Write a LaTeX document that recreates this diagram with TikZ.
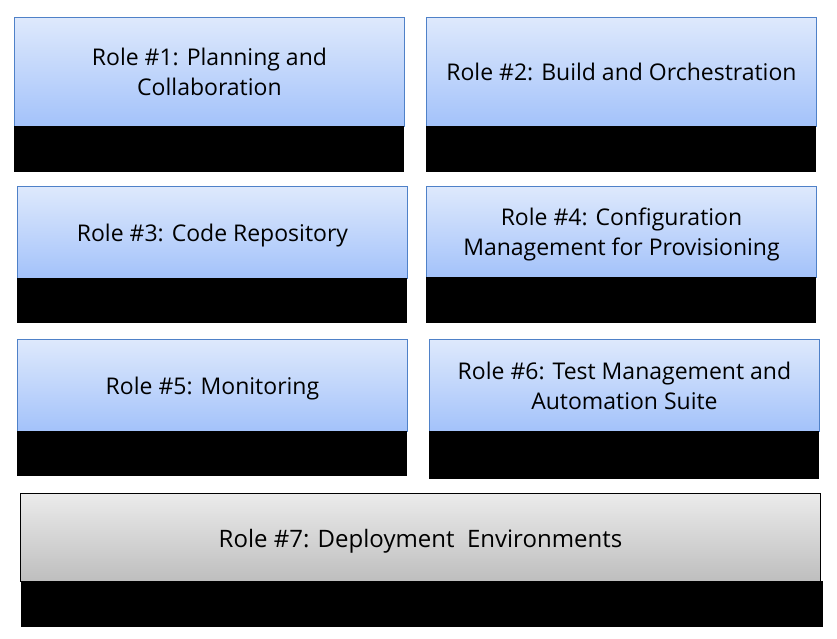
\documentclass[tikz,border=0pt]{standalone}
\usepackage{fontspec}
\setmainfont{Open Sans}
\definecolor{bluetop}{HTML}{DEE9FC}
\definecolor{bluebot}{HTML}{A3C2FA}
\definecolor{blueline}{HTML}{4F81C8}
\definecolor{graytop}{HTML}{EBEBEB}
\definecolor{graybot}{HTML}{BEBEBE}
\tikzset{
  rolebox/.style={anchor=north west, inner sep=0pt, draw=blueline, line width=0.9pt,
    top color=bluetop, bottom color=bluebot},
  graybox/.style={rolebox, draw=black, top color=graytop, bottom color=graybot},
  blackbar/.style={anchor=north west, inner sep=0pt, fill=black, draw=none},
  roletext/.style={inner sep=0pt, align=center, text=black,
    font=\fontsize{23}{30}\selectfont},
}
\begin{document}
\begin{tikzpicture}[x=1pt,y=-1pt]
\useasboundingbox (0,0) rectangle (837,639);
% Role boxes
\node[rolebox, minimum width=390pt, minimum height=109pt] (r1) at (14,17) {};
\node[blackbar, minimum width=390pt, minimum height=46pt] (k1) at (14,126) {};
\node[roletext] (t1) at (r1.center) {Role \#1: Planning and\\Collaboration};
\node[rolebox, minimum width=390pt, minimum height=109pt] (r2) at (426,17) {};
\node[blackbar, minimum width=390pt, minimum height=46pt] (k2) at (426,126) {};
\node[roletext] (t2) at (r2.center) {Role \#2: Build and Orchestration};
\node[rolebox, minimum width=390pt, minimum height=92pt] (r3) at (17,186) {};
\node[blackbar, minimum width=390pt, minimum height=45pt] (k3) at (17,278) {};
\node[roletext, yshift=-3pt] (t3) at (r3.center) {Role \#3: Code Repository};
\node[rolebox, minimum width=390pt, minimum height=91pt] (r4) at (426,186) {};
\node[blackbar, minimum width=390pt, minimum height=46pt] (k4) at (426,277) {};
\node[roletext, yshift=-3pt] (t4) at (r4.center) {Role \#4: Configuration\\Management for Provisioning};
\node[rolebox, minimum width=390pt, minimum height=92pt] (r5) at (17,339) {};
\node[blackbar, minimum width=390pt, minimum height=45pt] (k5) at (17,431) {};
\node[roletext, yshift=-3pt] (t5) at (r5.center) {Role \#5: Monitoring};
\node[rolebox, minimum width=390pt, minimum height=92pt] (r6) at (429,339) {};
\node[blackbar, minimum width=390pt, minimum height=48pt] (k6) at (429,431) {};
\node[roletext] (t6) at (r6.center) {Role \#6: Test Management and\\Automation Suite};
\node[graybox, minimum width=800pt, minimum height=88pt] (r7) at (20,493) {};
\node[blackbar, minimum width=802pt, minimum height=46pt] (k7) at (21,581) {};
\node[roletext, yshift=-4pt, font=\fontsize{24}{30}\selectfont] (t7) at (r7.center) {Role \#7: Deployment~~Environments};
\end{tikzpicture}
\end{document}
